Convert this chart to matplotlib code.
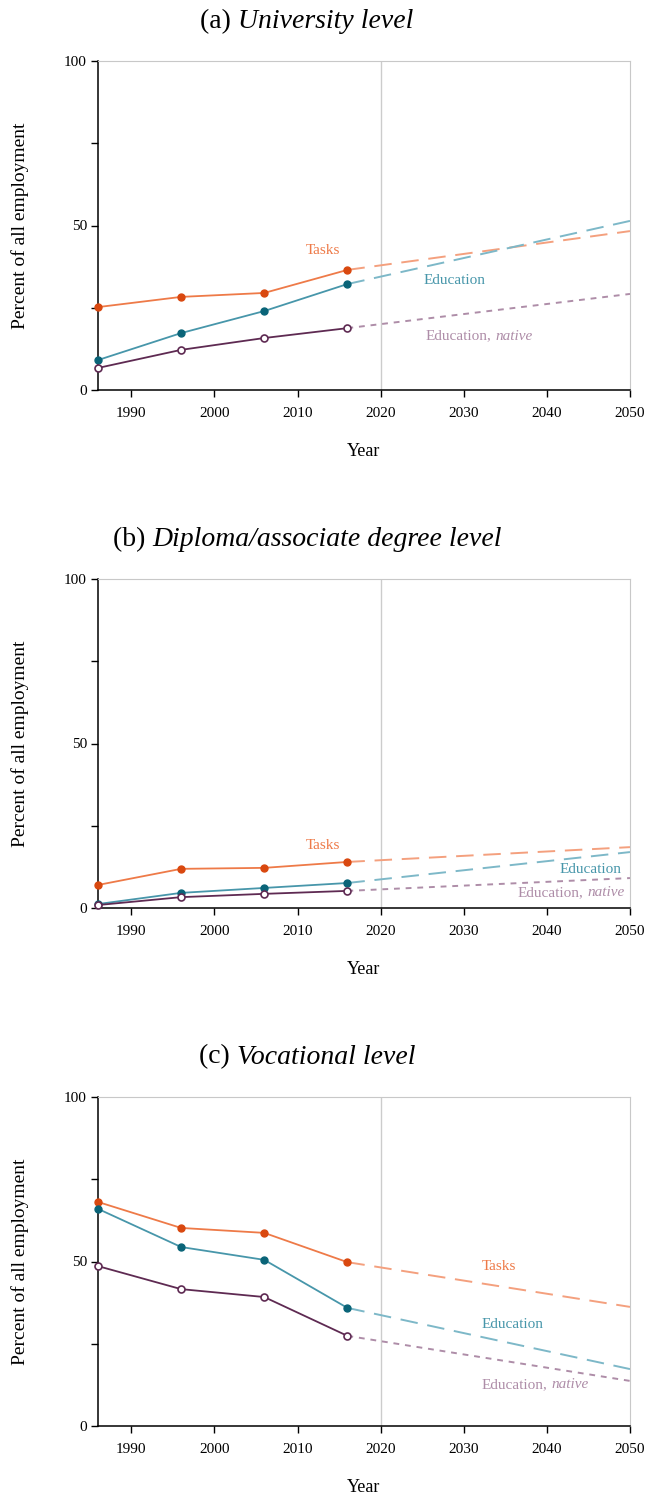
import numpy as np
import matplotlib
matplotlib.use("Agg")
import matplotlib.pyplot as plt
from matplotlib.ticker import MultipleLocator

plt.rcParams["font.family"] = ["Liberation Serif", "DejaVu Serif"]

years = [1986, 1996, 2006, 2016]
proj_years = [2016, 2050]

## (a) University
uni_tasks = [25.2, 28.3, 29.5, 36.5]
uni_tasks_proj = [36.5, 48.3]
uni_edu = [9.1, 17.3, 24.0, 32.2]
uni_edu_proj = [32.2, 51.4]
uni_native = [6.7, 12.2, 15.8, 18.8]
uni_native_proj = [18.8, 29.2]

## (b) Diploma / associate degree
dip_tasks = [7.0, 11.9, 12.2, 14.0]
dip_tasks_proj = [14.0, 18.5]
dip_edu = [1.2, 4.6, 6.1, 7.6]
dip_edu_proj = [7.6, 17.0]
dip_native = [0.9, 3.3, 4.3, 5.2]
dip_native_proj = [5.2, 9.1]

## (c) Vocational
voc_tasks = [68.1, 60.2, 58.7, 49.8]
voc_tasks_proj = [49.8, 36.2]
voc_edu = [66.0, 54.4, 50.5, 35.9]
voc_edu_proj = [35.9, 17.3]
voc_native = [48.6, 41.6, 39.2, 27.4]
voc_native_proj = [27.4, 13.7]

panels = [
    ("(a) ", "University level", uni_tasks, uni_tasks_proj, uni_edu, uni_edu_proj, uni_native, uni_native_proj,
     [(2013.1, 42.5, "center"), (2028.9, 33.4, "center"), (2025.4, 16.4, "left")]),
    ("(b) ", "Diploma/associate degree level", dip_tasks, dip_tasks_proj, dip_edu, dip_edu_proj, dip_native, dip_native_proj,
     [(2013.1, 19.1, "center"), (2045.3, 11.6, "center"), (2042.9, 4.6, "center")]),
    ("(c) ", "Vocational level", voc_tasks, voc_tasks_proj, voc_edu, voc_edu_proj, voc_native, voc_native_proj,
     [(2034.2, 48.6, "center"), (2035.9, 30.7, "center"), (2038.6, 12.5, "center")]),
]

c_tasks_m, c_tasks_l, c_tasks_p = "#d9480f", "#ee7a48", "#f4a07e"
c_edu_m, c_edu_l, c_edu_p = "#0a6478", "#4796aa", "#7db8c8"
c_nat_m, c_nat_l, c_nat_p = "#5e2a52", "#5e2a52", "#ae8da8"

fig = plt.figure(figsize=(6.5, 15.02), dpi=100)
W, H = 650, 1502
tops = [61, 579, 1097]
bottoms = [390, 908, 1426]
title_y = [22, 540, 1057]
year_y = [452, 970, 1488]

title_parts = []
for i, (lab, name, t, tp, e, ep, n, np_, pos) in enumerate(panels):
    ax = fig.add_axes([98 / W, 1 - bottoms[i] / H, 532 / W, (bottoms[i] - tops[i]) / H])
    ax.set_xlim(1986, 2050)
    ax.set_ylim(0, 100)
    ax.axvline(2020, color="#cccccc", lw=1, zorder=0)

    ax.plot(proj_years, tp, color=c_tasks_p, lw=1.4, dashes=(9, 5), zorder=1)
    ax.plot(proj_years, ep, color=c_edu_p, lw=1.4, dashes=(9, 5), zorder=1)
    ax.plot(proj_years, np_, color=c_nat_p, lw=1.4, dashes=(3, 3), zorder=1)

    ax.plot(years, t, color=c_tasks_l, lw=1.3, marker="o", ms=5, mfc=c_tasks_m, mec=c_tasks_m, zorder=3, clip_on=False)
    ax.plot(years, e, color=c_edu_l, lw=1.3, marker="o", ms=5, mfc=c_edu_m, mec=c_edu_m, zorder=3, clip_on=False)
    ax.plot(years, n, color=c_nat_l, lw=1.3, marker="o", ms=5, mfc="white", mec=c_nat_m, mew=1.2, zorder=4, clip_on=False)

    ax.text(pos[0][0], pos[0][1], "Tasks", color=c_tasks_l, fontsize=11, ha=pos[0][2], va="center")
    ax.text(pos[1][0], pos[1][1], "Education", color=c_edu_l, fontsize=11, ha=pos[1][2], va="center")
    t1 = ax.text(pos[2][0], pos[2][1], "Education,", color=c_nat_p, fontsize=11, ha="left", va="center")
    title_parts.append((ax, t1, pos[2]))

    ax.set_xticks([1990, 2000, 2010, 2020, 2030, 2040, 2050])
    ax.set_yticks([0, 50, 100])
    ax.yaxis.set_minor_locator(MultipleLocator(25))
    ax.tick_params(axis="both", which="both", direction="out", length=5, width=1, labelsize=11, pad=3)
    ax.tick_params(axis="x", pad=7)
    for s in ["top", "right"]:
        ax.spines[s].set_color("#c8c8c8")
    for s in ["left", "bottom"]:
        ax.spines[s].set_color("black")
        ax.spines[s].set_linewidth(1.1)

    fig.text(20 / W, 1 - (tops[i] + bottoms[i]) / 2 / H, "Percent of all employment", rotation=90,
             ha="center", va="center", fontsize=14)
    fig.text(364 / W, 1 - year_y[i] / H, "Year", ha="center", va="center", fontsize=13)

    a = fig.text(0, 1 - title_y[i] / H, lab, ha="left", va="center", fontsize=20)
    b = fig.text(0, 1 - title_y[i] / H, name, ha="left", va="center", fontsize=20, style="italic")
    title_parts.append((a, b))

fig.canvas.draw()
r = fig.canvas.get_renderer()
for item in title_parts:
    if len(item) == 2:
        a, b = item
        wa = a.get_window_extent(r).width
        wb = b.get_window_extent(r).width
        x0 = 307 - (wa + wb) / 2
        a.set_x(x0 / W)
        b.set_x((x0 + wa) / W)
    else:
        ax, t1, p = item
        bb = t1.get_window_extent(r)
        ital = ax.annotate("native", xy=(1, 0.5), xycoords=t1, xytext=(3, 0), textcoords="offset points",
                           va="center", ha="left", color=c_nat_p, fontsize=11, style="italic")
        if p[2] == "center":
            ital.draw(r)
            wi = ital.get_window_extent(r).width
            shift = (bb.width + 4 + wi) / 2
            x_disp = ax.transData.transform((p[0], p[1]))[0] - shift
            t1.set_x(ax.transData.inverted().transform((x_disp, 0))[0])

fig.savefig("out.png", dpi=100)
